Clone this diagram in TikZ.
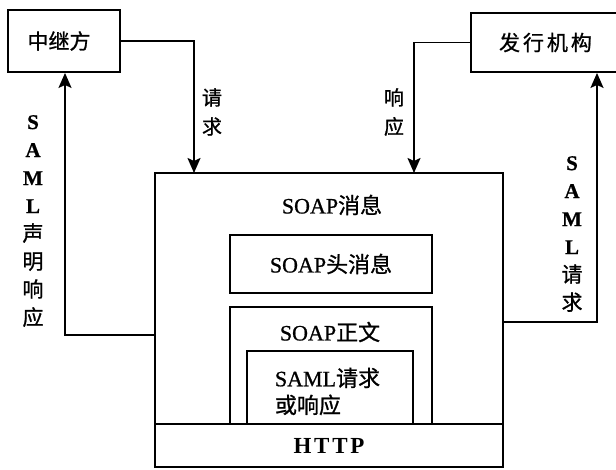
\documentclass[tikz,border=0pt]{standalone}
\usepackage{fontspec}
\setmainfont{Liberation Serif}[FakeBold=0.8]
\newfontfamily\cjk{Noto Sans CJK SC}[FakeBold=1]
\newfontfamily\cjkw{Noto Sans CJK SC}[LetterSpace=14,FakeBold=1]
\newfontfamily\httpfont{Liberation Serif}[LetterSpace=12]
\newcommand\zh[1]{{\cjk #1}}
\usetikzlibrary{arrows.meta}
\begin{document}
\begin{tikzpicture}[x=1pt,y=-1pt,line width=1.9pt,
  box/.style={draw,rectangle,inner sep=0pt},
  arr/.style={-{Stealth[length=15pt,width=13pt,inset=3pt]},line join=miter},
  lbl/.style={inner sep=0pt,align=center},
  txt/.style={font=\fontsize{22}{27}\selectfont},
  vlbl/.style={lbl,font=\fontsize{21}{28}\selectfont}]
\useasboundingbox (0,0) rectangle (616,470);
% top boxes
\node[box,minimum width=112pt,minimum height=62pt,font=\fontsize{21}{25}\selectfont] (relay) at (64,41) {\zh{中继方}\hspace*{10pt}};
\node[box,minimum width=149pt,minimum height=59pt,font=\fontsize{21}{25}\selectfont] (issuer) at (545.5,42.5) {\cjkw 发行机构};
% main SOAP box
\node[box,minimum width=348pt,minimum height=294pt] (main) at (329,320) {};
\node[txt,inner sep=0pt] (msg) at (332,205) {SOAP\zh{消息}};
\node[box,txt,minimum width=202pt,minimum height=58pt] (hdr) at (331,264) {SOAP\zh{头消息}};
\node[box,minimum width=202pt,minimum height=117pt] (body) at (331,365.5) {};
\node[txt,inner sep=0pt] (bodyt) at (330,332) {SOAP\zh{正文}};
\node[box,minimum width=166pt,minimum height=73pt] (saml) at (330,387.5) {};
\node[txt,inner sep=0pt,align=left,anchor=west] (samlt) at (274,391.5) {SAML\zh{请求}\\\zh{或响应}};
\node[box,minimum width=348pt,minimum height=43pt,font=\fontsize{23}{27}\selectfont\httpfont\bfseries] (http) at (329,445.5) {HTTP};
% vertical labels
\node[vlbl] (lbl1) at (33,221) {\textbf{S}\\\textbf{A}\\\textbf{M}\\\textbf{L}\\\zh{声}\\\zh{明}\\\zh{响}\\\zh{应}};
\node[vlbl] (lbl2) at (572,234) {\textbf{S}\\\textbf{A}\\\textbf{M}\\\textbf{L}\\\zh{请}\\\zh{求}};
\node[lbl,font=\fontsize{20}{29}\selectfont] (lbl3) at (212,112) {\zh{请}\\\zh{求}};
\node[lbl,font=\fontsize{20}{29}\selectfont] (lbl4) at (394,112) {\zh{响}\\\zh{应}};
% connectors
\coordinate (reqin) at (194,173);
\coordinate (resin) at (414,173);
\coordinate (lout) at (155,335);
\coordinate (lx) at (65,0);
\coordinate (rout) at (503,322);
\coordinate (rx) at (597,0);
\draw[arr] (relay.east) -| (reqin);
\draw[arr] (issuer.west) -| (resin);
\draw[arr] (lout) -| (relay.south -| lx);
\draw[arr] (rout) -| (issuer.south -| rx);
\end{tikzpicture}
\end{document}
